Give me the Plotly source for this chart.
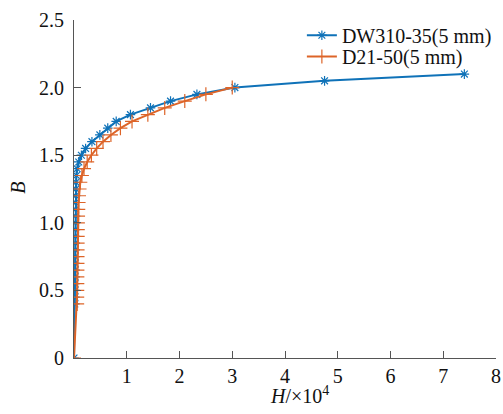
import plotly.graph_objects as go

# DW310-35 (5 mm): B values and H (x10^4)
dw_B = [0, 0.40, 0.45, 0.50, 0.55, 0.60, 0.65, 0.70, 0.75, 0.80, 0.85, 0.90, 0.95,
        1.00, 1.05, 1.10, 1.15, 1.20, 1.25, 1.30, 1.35, 1.40, 1.45, 1.50, 1.55,
        1.60, 1.65, 1.70, 1.75, 1.80, 1.85, 1.90, 1.95, 2.00, 2.05, 2.10]
dw_H = [0, 0.015, 0.016, 0.017, 0.018, 0.019, 0.020, 0.021, 0.022, 0.023, 0.024, 0.025, 0.026,
        0.027, 0.028, 0.029, 0.030, 0.032, 0.034, 0.038, 0.045, 0.06, 0.09, 0.14, 0.22,
        0.34, 0.49, 0.64, 0.80, 1.07, 1.45, 1.83, 2.33, 3.05, 4.75, 7.40]

# D21-50 (5 mm)
d21_B = [0, 0.40, 0.45, 0.50, 0.55, 0.60, 0.65, 0.70, 0.75, 0.80, 0.85, 0.90, 0.95,
         1.00, 1.05, 1.10, 1.15, 1.20, 1.25, 1.30, 1.35, 1.40, 1.45, 1.50, 1.55,
         1.60, 1.65, 1.70, 1.75, 1.80, 1.85, 1.90, 1.95, 2.00]
d21_H = [0, 0.060, 0.061, 0.062, 0.063, 0.064, 0.065, 0.066, 0.067, 0.068, 0.069, 0.070, 0.072,
         0.074, 0.077, 0.081, 0.087, 0.095, 0.105, 0.12, 0.15, 0.19, 0.25, 0.33, 0.43,
         0.55, 0.70, 0.88, 1.10, 1.40, 1.72, 2.10, 2.50, 3.00]

x_ticks = [1, 2, 3, 4, 5, 6, 7, 8]
y_ticks = [0, 0.5, 1.0, 1.5, 2.0, 2.5]
y_ticktext = ["0", "0.5", "1.0", "1.5", "2.0", "2.5"]
x_title = "<i>H</i>/×10<sup>4</sup>"
y_title = "<i>B</i>"

blue = "#0F72B8"
orange = "#DD6428"
font_family = "Liberation Serif"
tick_font = dict(family=font_family, size=20, color="#111")

fig = go.Figure()
fig.add_trace(go.Scatter(
    x=dw_H, y=dw_B, mode="lines+markers", name="DW310-35(5 mm)",
    line=dict(color=blue, width=2),
    marker=dict(symbol="asterisk-open", size=8, color=blue, line=dict(color=blue, width=1.2)),
    legend="legend",
))
fig.add_trace(go.Scatter(
    x=d21_H, y=d21_B, mode="lines+markers", name="D21-50(5 mm)",
    line=dict(color=orange, width=2),
    marker=dict(symbol="cross-thin-open", size=10, color=orange, line=dict(color=orange, width=1.2)),
    legend="legend2",
))

legend_common = dict(xanchor="left", yanchor="middle", bgcolor="rgba(0,0,0,0)",
                     font=dict(size=20, family=font_family, color="#111"),
                     itemwidth=30, borderwidth=0)

fig.update_layout(
    width=503, height=414,
    margin=dict(l=74, r=7, t=20, b=56, autoexpand=False),
    paper_bgcolor="white", plot_bgcolor="white",
    font=dict(family=font_family, size=20, color="#111"),
    showlegend=True,
    legend=dict(x=0.540, y=0.955, **legend_common),
    legend2=dict(x=0.540, y=0.892, **legend_common),
    xaxis=dict(range=[0, 8], tickvals=x_ticks, showgrid=False, zeroline=False,
               showline=True, linecolor="#555", linewidth=1,
               ticks="inside", ticklen=7, tickcolor="#555", tickfont=tick_font),
    yaxis=dict(range=[0, 2.5], tickvals=y_ticks, ticktext=y_ticktext, showgrid=False,
               zeroline=False, showline=True, linecolor="#555", linewidth=1,
               ticks="inside", ticklen=7, tickcolor="#555", tickfont=tick_font,
               ticklabelstandoff=5),
    annotations=[
        dict(text=x_title, xref="paper", yref="paper", x=0.535, y=0,
             xanchor="center", yanchor="middle", yshift=-37, showarrow=False,
             font=dict(size=20, family=font_family, color="#111")),
        dict(text=y_title, xref="paper", yref="paper", x=-0.133, y=0.503,
             xanchor="center", yanchor="middle", textangle=-90, showarrow=False,
             font=dict(size=20, family=font_family, color="#111")),
    ],
)

fig.write_html("out.html", config={"displayModeBar": False},
               post_script="document.body.style.margin='0';")
